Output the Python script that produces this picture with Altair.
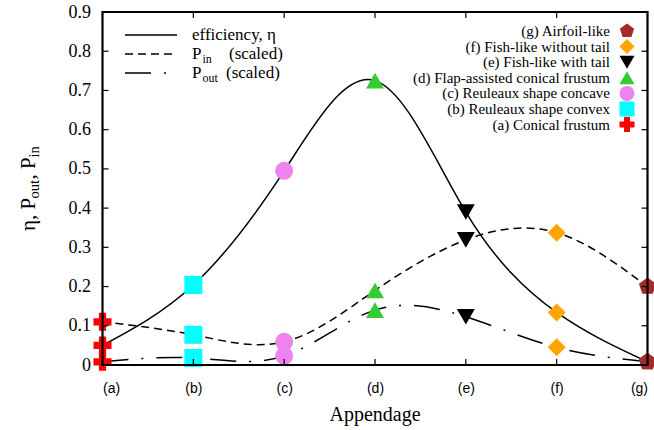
import json
import altair as alt
import pandas as pd

# ---------------- data ----------------
appendages = [
    "(a) Conical frustum",
    "(b) Reuleaux shape convex",
    "(c) Reuleaux shape concave",
    "(d) Flap-assisted conical frustum",
    "(e) Fish-like with tail",
    "(f) Fish-like without tail",
    "(g) Airfoil-like",
]
tick_labels = ["(a)", "(b)", "(c)", "(d)", "(e)", "(f)", "(g)"]
eta = [0.05, 0.204, 0.495, 0.725, 0.39, 0.134, 0.008]
p_in = [0.11, 0.077, 0.059, 0.19, 0.319, 0.3375, 0.2]
p_out = [0.008, 0.018, 0.023, 0.14, 0.123, 0.045, 0.008]
y_ticks = [0, 0.1, 0.2, 0.3, 0.4, 0.5, 0.6, 0.7, 0.8, 0.9]
x_ticks = [0, 1, 2, 3, 4, 5, 6]

colors = ["#ff0000", "#00ffff", "#ee82ee", "#33cc33", "#000000", "#ffa500", "#a52a2a"]
PENT = "M0,-1L0.951,-0.309L0.588,0.809L-0.588,0.809L-0.951,-0.309Z"
shapes = ["cross", "square", "circle", "triangle-up", "triangle-down", "diamond", PENT]

W, H = 545, 353
SERIF = "Liberation Serif"
SANS = "Liberation Sans"

# ---------------- tables ----------------
rows = []
for i, name in enumerate(appendages):
    for s, vals in (("eta", eta), ("pin", p_in), ("pout", p_out)):
        rows.append({"i": i, "v": vals[i], "app": name, "series": s})
df = pd.DataFrame(rows)

def series_df(vals):
    return pd.DataFrame({"i": list(range(len(vals))), "v": vals})

legend_df = pd.DataFrame({"app": appendages[::-1], "row": list(range(len(appendages)))})
ytick_df = pd.DataFrame({"v": y_ticks})
xtick_df = pd.DataFrame({"i": x_ticks})

label_expr = json.dumps(tick_labels) + "[datum.value]"

xenc = alt.X(
    "i:Q",
    scale=alt.Scale(domain=[0, 6], nice=False, zero=False),
    axis=alt.Axis(values=x_ticks, labelExpr=label_expr, title=None, domain=False,
                  ticks=False, grid=False, labelFont=SANS, labelFontSize=14,
                  labelColor="black", labelPadding=16),
)
yenc = alt.Y(
    "v:Q",
    scale=alt.Scale(domain=[0, 0.9], nice=False),
    axis=alt.Axis(values=y_ticks, format=".1~f", title=None, domain=False,
                  ticks=False, grid=False, labelFont=SERIF, labelFontSize=18,
                  labelColor="black", labelPadding=12),
)

color_scale = alt.Scale(domain=appendages, range=colors)
shape_scale = alt.Scale(domain=appendages, range=shapes)

def line(vals, dash):
    kw = {"strokeDash": dash} if dash else {}
    return alt.Chart(series_df(vals)).mark_line(
        interpolate="natural", color="black", strokeWidth=1.5, **kw
    ).encode(x=xenc, y=yenc)

l_eta = line(eta, None)
l_in = line(p_in, [8, 5])
l_out = line(p_out, [26, 13, 2, 13])

pts = alt.Chart(df).mark_point(filled=True, size=324, opacity=1).encode(
    x=xenc, y=yenc,
    color=alt.Color("app:N", scale=color_scale, legend=None),
    shape=alt.Shape("app:N", scale=shape_scale, legend=None),
)

# inward ticks (mirror on all four sides)
tick_style = dict(color="black", strokeWidth=1.2)
yt_left = alt.Chart(ytick_df).mark_rule(**tick_style).encode(y=yenc, x=alt.value(0), x2=alt.value(6))
yt_right = alt.Chart(ytick_df).mark_rule(**tick_style).encode(y=yenc, x=alt.value(W - 6), x2=alt.value(W))
xt_bot = alt.Chart(xtick_df).mark_rule(**tick_style).encode(x=xenc, y=alt.value(H - 6), y2=alt.value(H))
xt_top = alt.Chart(xtick_df).mark_rule(**tick_style).encode(x=xenc, y=alt.value(0), y2=alt.value(6))

frame = alt.Chart().mark_rect(fillOpacity=0, stroke="black", strokeWidth=2.2).encode(
    x=alt.value(0), x2=alt.value(W), y=alt.value(0), y2=alt.value(H)
)

# right legend (labels left of symbols)
leg_base = alt.Chart(legend_df).transform_calculate(py="19 + 15.6 * datum.row")
leg_txt = leg_base.mark_text(font=SERIF, fontSize=15, align="right", baseline="middle", color="black").encode(
    x=alt.value(507.5), y=alt.Y("py:Q", scale=None), text="app:N"
)
leg_sym = leg_base.mark_point(filled=True, size=225, opacity=1).encode(
    x=alt.value(524.5), y=alt.Y("py:Q", scale=None),
    color=alt.Color("app:N", scale=color_scale, legend=None),
    shape=alt.Shape("app:N", scale=shape_scale, legend=None),
)

def txt(s, x, y, size, align="left", baseline="middle", angle=None):
    kw = {"angle": angle} if angle is not None else {}
    return alt.Chart().mark_text(font=SERIF, fontSize=size, align=align, baseline=baseline,
                                 color="black", **kw).encode(
        x=alt.value(x), y=alt.value(y), text=alt.value(s))

def leg_line(y, dash):
    kw = {"strokeDash": dash} if dash else {}
    return alt.Chart().mark_rule(color="black", strokeWidth=1.5, **kw).encode(
        x=alt.value(22.5), x2=alt.value(74.5), y=alt.value(y))

left_legend = [
    leg_line(23, None), leg_line(42, [8, 5]), leg_line(61, [26, 13, 2, 13]),
    txt("efficiency, η", 89.5, 23, 17),
    txt("P", 89.5, 42, 17), txt("in", 100, 47, 12), txt("(scaled)", 126.5, 42, 17),
    txt("P", 89.5, 61, 17), txt("out", 100, 66, 12), txt("(scaled)", 123.5, 61, 17),
]

titles = [
    txt("Appendage", W / 2, 409, 20, align="center", baseline="alphabetic"),
    txt("η, P", -67.5, 219, 21, baseline="alphabetic", angle=270),
    txt("out", -63.5, 186.5, 14.5, baseline="alphabetic", angle=270),
    txt(", P", -67.5, 167.5, 21, baseline="alphabetic", angle=270),
    txt("in", -63.5, 145.5, 14.5, baseline="alphabetic", angle=270),
]

chart = alt.layer(
    l_eta, l_in, l_out, pts,
    yt_left, yt_right, xt_bot, xt_top,
    leg_txt, leg_sym, *left_legend, *titles,
    frame,
).properties(
    width=W, height=H,
    padding={"left": 102.5, "top": 12, "right": 6, "bottom": 65},
    autosize=alt.AutoSizeParams(type="none"),
    background="white",
).configure_view(strokeWidth=0)

chart.save("out.html", embed_options={"renderer": "svg", "actions": False})
